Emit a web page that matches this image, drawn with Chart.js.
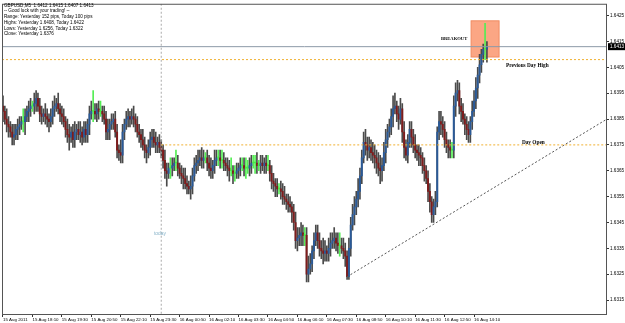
<!DOCTYPE html>
<html lang="en">
<head>
  <meta charset="UTF-8" />
  <title>GBPUSD,M5</title>
  <script src="https://cdn.jsdelivr.net/npm/chart.js@4.4.1/dist/chart.umd.min.js"></script>
  <style>
    body { margin: 0; background: #fff; }
    canvas { display: block; }
  </style>
</head>
<body>
  <canvas id="grafico" width="625" height="323"></canvas>

<script>
// M5 bars, prices in pips above 1.6300 (1.6376 -> 76)
const opens = [
  90,88,85,83,82,80,78,79,81,82, 83,84,84,86,88,89,90,90,91,93, 90,87,86,87,86,85,84,86,89,90,
  91,89,87,86,84,81,79,78,80,77, 80,81,79,80,78,81,79,83,87,88, 88,87,89,88,88,87,85,80,81,83,
  84,85,80,73,72,71,80,83,85,86, 85,86,85,83,80,79,77,75,73,72, 74,77,78,76,75,76,74,73,69,65,
  64,66,66,67,68,68,66,64,63,62, 60,59,58,59,63,67,68,69,70,69, 70,70,68,66,65,67,69,70,70,69,
  69,68,67,66,65,65,64,64,65,66, 67,67,66,66,66,67,68,68,68,67, 67,68,67,68,67,67,64,61,60,59,
  58,58,57,55,54,53,52,51,49,45, 38,39,40,41,40,40,25,27,29,34, 38,41,38,35,34,33,34,33,35,37,
  38,39,37,36,36,35,34,32,24,35, 44,48,51,54,57,63,70,76,75,73, 74,72,71,70,68,66,65,67,72,77,
  80,82,86,89,90,87,85,89,80,74, 71,76,81,78,75,73,72,71,70,67, 65,62,57,53,48,51,53,80,84,83,
  81,77,75,74,73,73,90,95,96,90, 88,85,83,81,79,84,88,92,97,102, 106,110,112,112
];
const highs = [
  94,90,89,86,84,83,83,83,85,86, 86,89,89,90,92,93,92,95,96,95, 93,90,89,91,89,87,89,92,94,93,
  95,91,90,89,86,85,83,82,83,84, 83,84,84,82,84,84,85,90,92,96, 91,91,92,92,90,90,88,85,85,87,
  87,88,83,75,77,83,85,88,89,88, 89,90,87,86,83,81,81,78,75,77, 80,81,81,80,78,79,77,75,73,68,
  68,70,70,70,73,71,68,67,66,66, 63,61,63,66,70,71,73,73,74,73, 72,73,71,70,69,73,73,73,73,73,
  72,70,70,69,70,67,67,68,68,70, 70,70,70,69,70,71,71,71,72,69, 71,71,70,71,71,69,67,64,62,62,
  60,61,60,59,56,56,55,53,52,49, 43,43,45,44,43,43,32,33,36,41, 44,44,41,38,39,38,36,39,41,41,
  43,41,41,41,39,39,37,34,39,47, 52,55,57,62,66,73,80,81,78,78, 77,76,75,73,72,71,70,76,81,83,
  85,89,94,95,92,90,93,91,84,77, 79,84,84,81,79,75,75,74,72,70, 67,65,60,55,54,57,82,88,88,86,
  84,80,77,77,76,94,99,100,99,93, 91,87,86,84,86,92,96,101,105,110, 112,114,122,115
];
const lows = [
  84,83,80,78,78,75,75,77,77,79, 81,80,79,84,84,86,88,87,88,88, 84,83,84,83,82,80,82,83,86,88,
  87,84,83,82,78,76,73,76,74,74, 77,77,76,75,76,76,76,79,85,84, 85,84,85,86,84,83,77,77,77,81,
  81,78,70,69,68,68,77,81,82,82, 83,82,80,78,76,74,73,70,68,70, 71,74,74,72,72,72,70,66,62,59,
  62,62,63,65,65,63,62,60,58,58, 56,56,54,56,61,64,65,67,66,66, 68,65,63,62,62,64,67,67,66,66,
  65,65,63,61,63,60,61,62,62,63, 65,63,62,64,63,64,66,64,64,65, 64,65,64,64,65,61,58,57,55,55,
  56,54,52,52,50,49,49,45,42,35, 34,36,36,36,36,22,22,25,26,31, 36,35,32,31,29,30,30,30,32,35,
  35,34,33,32,33,31,28,23,23,32, 42,44,48,51,54,60,68,71,69,70, 69,68,66,64,63,60,61,65,68,74,
  78,79,82,87,84,81,83,76,70,69, 68,74,74,72,70,69,67,67,64,61, 60,53,49,45,45,48,51,77,79,78,
  74,72,70,70,70,70,86,92,87,84, 83,79,77,76,76,81,86,89,93,99, 103,107,108,107
];
const closes = [
  88,85,83,82,80,78,79,81,82,83, 84,84,86,88,89,90,90,91,93,90, 87,86,87,86,85,84,86,89,90,91,
  89,87,86,84,81,79,78,80,77,80, 81,79,80,78,81,79,83,87,88,88, 87,89,88,88,87,85,80,81,83,84,
  85,80,73,72,71,80,83,85,86,85, 86,85,83,80,79,77,75,73,72,74, 77,78,76,75,76,74,73,69,65,64,
  66,66,67,68,68,66,64,63,62,60, 59,58,59,63,67,68,69,70,69,70, 70,68,66,65,67,69,70,70,69,69,
  68,67,66,65,65,64,64,65,66,67, 67,66,66,66,67,68,68,68,67,67, 68,67,68,67,67,64,61,60,59,58,
  58,57,55,54,53,52,51,49,45,38, 39,40,41,40,40,25,27,29,34,38, 41,38,35,34,33,34,33,35,37,38,
  39,37,36,36,35,34,32,24,35,44, 48,51,54,57,63,70,76,75,73,74, 72,71,70,68,66,65,67,72,77,80,
  82,86,89,90,87,85,89,80,74,71, 76,81,78,75,73,72,71,70,67,65, 62,57,53,48,51,53,80,84,83,81,
  77,75,74,73,73,90,95,96,90,88, 85,83,81,79,84,88,92,97,102,106, 110,112,112,113
];

// eixo do tempo: uma etiqueta a cada 16 barras (80 min)
const xTickBars = [0,16,32,48,64,80,96,112,128,144,160,176,192,208,224,240,256];
const xTickLabels = [
  "15 Aug 2011","15 Aug 18:10","15 Aug 19:30","15 Aug 20:50","15 Aug 22:10","15 Aug 23:30",
  "16 Aug 00:50","16 Aug 02:10","16 Aug 03:30","16 Aug 04:50","16 Aug 06:10","16 Aug 07:30",
  "16 Aug 08:50","16 Aug 10:10","16 Aug 11:30","16 Aug 12:50","16 Aug 14:10"
];
const yTicks = [1.6315,1.6325,1.6335,1.6345,1.6355,1.6365,1.6375,1.6385,1.6395,1.6405,1.6415,1.6425];

// níveis e objetos desenhados no gráfico
const bidPrice = 1.6413;
const prevDayHigh = 1.6408;
const dayOpen = 1.6375;
const dayStartBar = 86;
const trendStart = { x: 187, y: 1.6324 };
const trendEnd = { x: 328.26, y: 1.6385 };
const breakoutBox = { x0: 254.4, x1: 269.6, top: 1.6423, bottom: 1.6409 };
const infoLines = [
  "GBPUSD,M5  1.6412 1.6415 1.6407 1.6413",
  "-- Good luck with your trading! --",
  "Range: Yesterday 152 pips, Today 100 pips",
  "Highs: Yesterday 1.6408, Today 1.6422",
  "Lows: Yesterday 1.6256, Today 1.6322",
  "Close: Yesterday 1.6376"
];

const X_MIN = -0.54, X_MAX = 328.26;
const Y_MIN = 1.63092, Y_MAX = 1.64296;

const price = p => 1.63 + p / 10000;

const wicks = highs.map((h, i) => ({ x: i, y: [price(lows[i]), price(h)] }));
const bodies = opens.map((o, i) => ({
  x: i, y: [price(Math.min(o, closes[i])), price(Math.max(o, closes[i]))]
}));
const corBarra = i => closes[i] > opens[i] ? "#2a5a98" : closes[i] < opens[i] ? "#7e1c1c" : "#44ee44";
const corPavio = i => closes[i] === opens[i] ? "#55ee55" : "#4a4a4a";

const dotted = (cor, pts, dash) => ({
  type: "line", data: pts, borderColor: cor, borderWidth: 1, borderDash: dash,
  pointRadius: 0, fill: false, order: 0, tension: 0
});

const extras = {
  id: "extras",
  beforeDatasetsDraw(chart) {
    const { ctx, scales: { x, y } } = chart;
    const x0 = x.getPixelForValue(breakoutBox.x0), x1 = x.getPixelForValue(breakoutBox.x1);
    const y0 = y.getPixelForValue(breakoutBox.top), y1 = y.getPixelForValue(breakoutBox.bottom);
    ctx.save();
    ctx.fillStyle = "rgba(250,150,110,0.85)";
    ctx.fillRect(x0, y0, x1 - x0, y1 - y0);
    ctx.strokeStyle = "#f08a60";
    ctx.strokeRect(x0, y0, x1 - x0, y1 - y0);
    ctx.restore();
  },
  afterDraw(chart) {
    const { ctx, chartArea: a, scales: { x, y } } = chart;
    ctx.save();
    // moldura
    ctx.strokeStyle = "#555";
    ctx.lineWidth = 1;
    ctx.strokeRect(a.left + 0.5, a.top + 0.5, a.right - a.left - 1, a.bottom - a.top - 1);

    // textos do canto
    ctx.fillStyle = "#000";
    ctx.font = "4.6px 'Liberation Sans'";
    ctx.textBaseline = "middle";
    infoLines.forEach((t, i) => ctx.fillText(t, 4, 5.5 + i * 5.7));

    // rótulos das linhas
    ctx.font = "bold 4.6px 'Liberation Serif'";
    ctx.fillText("BREAKOUT", x.getPixelForValue(238), y.getPixelForValue(1.64162));
    ctx.font = "bold 5.3px 'Liberation Serif'";
    ctx.fillText("Previous Day High", x.getPixelForValue(273.4), y.getPixelForValue(1.64058));
    ctx.fillText("Day Open", x.getPixelForValue(282), y.getPixelForValue(1.63758));
    ctx.fillStyle = "#86b2c8";
    ctx.font = "4.9px 'Liberation Sans'";
    ctx.fillText("today", x.getPixelForValue(82), y.getPixelForValue(1.63408));

    // preço atual no eixo
    const py = y.getPixelForValue(bidPrice);
    ctx.fillStyle = "#000";
    ctx.fillRect(a.right + 1, py - 3.5, 625 - a.right, 7);
    ctx.fillStyle = "#fff";
    ctx.font = "4.6px 'Liberation Sans'";
    ctx.fillText(bidPrice.toFixed(4), a.right + 3, py);
    ctx.restore();
  }
};

new Chart(document.getElementById("grafico"), {
  type: "bar",
  data: {
    datasets: [
      dotted("#8d9aa8", [{ x: X_MIN, y: bidPrice }, { x: X_MAX, y: bidPrice }], []),
      dotted("#f0b030", [{ x: X_MIN, y: prevDayHigh }, { x: X_MAX, y: prevDayHigh }], [2, 2]),
      dotted("#f0b030", [{ x: dayStartBar, y: dayOpen }, { x: X_MAX, y: dayOpen }], [2, 2]),
      dotted("#555", [trendStart, trendEnd], [2, 2]),
      dotted("#aaa", [{ x: dayStartBar, y: Y_MAX }, { x: dayStartBar, y: Y_MIN }], [2, 2]),
      {
        data: wicks, barThickness: 1, grouped: false, order: 2,
        backgroundColor: wicks.map((_, i) => corPavio(i))
      },
      {
        data: bodies, barThickness: 1.3, grouped: false, order: 1, minBarLength: 1,
        backgroundColor: bodies.map((_, i) => corBarra(i))
      }
    ]
  },
  options: {
    responsive: false,
    animation: false,
    layout: { padding: { left: 2, top: 1, right: 0, bottom: 0 } },
    plugins: { legend: { display: false }, tooltip: { enabled: false } },
    scales: {
      x: {
        type: "linear", min: X_MIN, max: X_MAX, offset: false,
        grid: { display: true, drawOnChartArea: false, offset: false, tickLength: 2, color: "#333" },
        border: { display: false },
        afterBuildTicks: s => { s.ticks = xTickBars.map(v => ({ value: v })); },
        afterFit: s => { s.height = 8; },
        ticks: {
          autoSkip: false, maxRotation: 0, align: "start", padding: 0, color: "#000",
          font: { family: "Liberation Sans", size: 4.4 },
          callback: v => xTickLabels[xTickBars.indexOf(v)]
        }
      },
      y: {
        position: "right", min: Y_MIN, max: Y_MAX,
        grid: { display: true, drawOnChartArea: false, tickLength: 2, color: "#333" },
        border: { display: false },
        afterBuildTicks: s => { s.ticks = yTicks.map(v => ({ value: v })); },
        afterFit: s => { s.width = 18; },
        ticks: {
          padding: 1, color: "#000",
          font: { family: "Liberation Sans", size: 4.6 },
          callback: v => v.toFixed(4)
        }
      }
    }
  },
  plugins: [extras]
});
</script>
</body>
</html>
